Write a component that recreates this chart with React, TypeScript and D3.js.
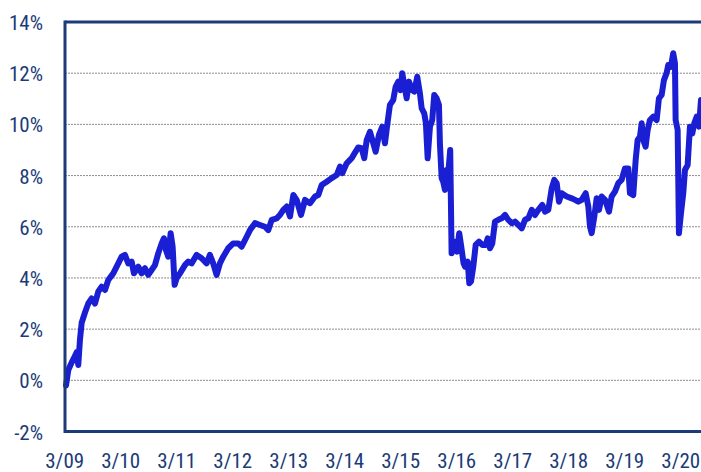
import React from "react";
import * as d3 from "d3";

// decimal year of each observation
const years = [
  2009.185, 2009.226, 2009.287, 2009.346, 2009.376, 2009.404, 2009.435, 2009.465, 2009.524, 2009.583,
  2009.644, 2009.703, 2009.762, 2009.822, 2009.881, 2009.94, 2010.029, 2010.119, 2010.179, 2010.238,
  2010.297, 2010.358, 2010.399, 2010.476, 2010.537, 2010.596, 2010.655, 2010.715, 2010.774, 2010.833,
  2010.894, 2010.935, 2010.971, 2011.012, 2011.055, 2011.09, 2011.126, 2011.162, 2011.221, 2011.31,
  2011.369, 2011.429, 2011.519, 2011.608, 2011.697, 2011.756, 2011.815, 2011.876, 2011.935, 2011.994,
  2012.083, 2012.172, 2012.262, 2012.322, 2012.412, 2012.471, 2012.56, 2012.649, 2012.738, 2012.797,
  2012.858, 2012.947, 2013.006, 2013.065, 2013.126, 2013.185, 2013.244, 2013.304, 2013.381, 2013.453,
  2013.542, 2013.631, 2013.69, 2013.751, 2013.84, 2013.929, 2014.019, 2014.078, 2014.119, 2014.197,
  2014.287, 2014.346, 2014.404, 2014.465, 2014.512, 2014.555, 2014.613, 2014.673, 2014.715, 2014.774,
  2014.833, 2014.881, 2014.922, 2014.97, 2015.029, 2015.072, 2015.119, 2015.161, 2015.19, 2015.226,
  2015.269, 2015.31, 2015.369, 2015.405, 2015.458, 2015.506, 2015.537, 2015.583, 2015.613, 2015.644,
  2015.685, 2015.726, 2015.762, 2015.804, 2015.846, 2015.863, 2015.894, 2015.922, 2015.953, 2015.983,
  2016.012, 2016.047, 2016.072, 2016.119, 2016.167, 2016.208, 2016.244, 2016.285, 2016.31, 2016.358,
  2016.387, 2016.417, 2016.458, 2016.501, 2016.56, 2016.619, 2016.679, 2016.715, 2016.756, 2016.797,
  2016.845, 2016.904, 2016.965, 2017.024, 2017.083, 2017.144, 2017.203, 2017.262, 2017.322, 2017.381,
  2017.44, 2017.501, 2017.56, 2017.619, 2017.69, 2017.738, 2017.797, 2017.858, 2017.904, 2017.947,
  2017.988, 2018.036, 2018.126, 2018.215, 2018.274, 2018.333, 2018.393, 2018.465, 2018.512, 2018.542,
  2018.572, 2018.619, 2018.661, 2018.703, 2018.751, 2018.812, 2018.881, 2018.929, 2018.988, 2019.047,
  2019.107, 2019.167, 2019.226, 2019.256, 2019.315, 2019.358, 2019.393, 2019.435, 2019.465, 2019.494,
  2019.536, 2019.572, 2019.613, 2019.673, 2019.733, 2019.774, 2019.822, 2019.863, 2019.911, 2019.94,
  2019.988, 2020.029, 2020.06, 2020.072, 2020.108, 2020.131, 2020.167, 2020.208, 2020.238, 2020.286,
  2020.327, 2020.369, 2020.404, 2020.447, 2020.488, 2020.524,
];

// value in percent
const values = [
  -0.2, 0.4, 0.7, 0.95, 1.1, 0.6, 1.6, 2.25, 2.65, 3.0,
  3.2, 3.0, 3.47, 3.66, 3.53, 3.92, 4.18, 4.57, 4.83, 4.9,
  4.57, 4.64, 4.18, 4.44, 4.18, 4.38, 4.12, 4.31, 4.5, 4.96,
  5.35, 5.55, 5.09, 4.83, 5.75, 5.22, 3.73, 3.99, 4.18, 4.5,
  4.64, 4.57, 4.9, 4.77, 4.57, 4.9, 4.57, 4.12, 4.57, 4.83,
  5.16, 5.35, 5.35, 5.22, 5.61, 5.87, 6.14, 6.07, 6.0, 5.87,
  6.27, 6.33, 6.46, 6.66, 6.79, 6.4, 7.24, 7.05, 6.46, 7.05,
  6.92, 7.18, 7.24, 7.63, 7.76, 7.9, 8.02, 8.35, 8.09, 8.48,
  8.68, 8.9, 9.1, 9.07, 8.68, 9.39, 9.71, 9.26, 8.93, 9.59,
  9.91, 9.26, 9.98, 10.76, 10.95, 11.47, 11.67, 11.34, 12.0, 11.54,
  11.02, 11.67, 11.34, 11.28, 11.86, 11.21, 10.63, 10.43, 10.04, 8.68,
  9.91, 10.17, 11.15, 11.02, 10.76, 9.26, 7.9, 7.76, 7.44, 8.22,
  8.09, 9.0, 4.96, 5.42, 5.03, 5.75, 5.22, 4.57, 4.44, 4.64,
  3.79, 3.86, 4.44, 5.29, 5.42, 5.29, 5.29, 5.55, 5.16, 5.35,
  6.2, 6.27, 6.33, 6.46, 6.27, 6.14, 6.2, 6.07, 5.94, 6.27,
  6.33, 6.66, 6.46, 6.66, 6.85, 6.59, 6.66, 7.5, 7.83, 7.7,
  6.98, 7.31, 7.18, 7.11, 7.05, 6.98, 7.05, 7.31, 6.79, 6.0,
  5.75, 6.4, 7.11, 6.66, 7.18, 7.05, 6.59, 7.18, 7.37, 7.7,
  7.83, 8.28, 8.28, 7.31, 7.24, 8.61, 9.39, 9.52, 10.04, 9.39,
  9.13, 9.78, 10.17, 10.3, 10.17, 11.02, 11.15, 11.73, 12.0, 12.32,
  12.25, 12.78, 12.39, 10.17, 9.78, 5.75, 6.53, 7.31, 8.22, 8.41,
  9.91, 9.65, 10.04, 10.3, 9.91, 10.95,
];

const yTicks = [-2, 0, 2, 4, 6, 8, 10, 12, 14];
const xTickYears = [2009, 2010, 2011, 2012, 2013, 2014, 2015, 2016, 2017, 2018, 2019, 2020];
const domainStart = 2009.167;
const domainEnd = 2020.524;

function toDate(dy: number): Date {
  const y = Math.floor(dy);
  const start = Date.UTC(y, 0, 1);
  const end = Date.UTC(y + 1, 0, 1);
  return new Date(start + (dy - y) * (end - start));
}

const W = 701;
const H = 472;
const left = 65;
const right = 701;
const top = 22;
const bottom = 431.5;
const navy = "#1b3c78";
const font = "'Liberation Sans Narrow', 'Arial Narrow', 'Roboto Condensed', sans-serif";

export default function App() {
  const x = d3.scaleUtc().domain([toDate(domainStart), toDate(domainEnd)]).range([left, right]);
  const y = d3.scaleLinear().domain([-2, 14]).range([bottom, top]);
  const pts = years.map((yr, i) => ({ d: toDate(yr), v: values[i] }));
  const line = d3
    .line<{ d: Date; v: number }>()
    .x((p) => x(p.d))
    .y((p) => y(p.v));
  const fmt = d3.utcFormat("%-m/%y");
  const xTicks = xTickYears.map((yr) => new Date(Date.UTC(yr, 2, 1)));

  return (
    <svg
      width={W}
      height={H}
      style={{ position: "absolute", left: 0, top: 0, background: "#fff" }}
      fontFamily={font}
    >
      {yTicks
        .filter((t) => t > -2 && t < 14)
        .map((t) => (
          <line
            key={t}
            x1={left}
            x2={right}
            y1={y(t)}
            y2={y(t)}
            stroke="#8c8c8c"
            strokeWidth={1}
            strokeDasharray="2,1"
          />
        ))}
      <path d={line(pts) || ""} fill="none" stroke="#1b1fd3" strokeWidth={6} strokeLinejoin="round" strokeLinecap="round" />
      <line x1={left} x2={right} y1={top} y2={top} stroke={navy} strokeWidth={3} />
      <line x1={left} x2={right} y1={bottom} y2={bottom} stroke={navy} strokeWidth={3} />
      <line x1={left} x2={left} y1={top - 1.5} y2={bottom + 1.5} stroke={navy} strokeWidth={3} />
      {yTicks.map((t) => (
        <text key={t} x={43} y={y(t) + 8} textAnchor="end" fontSize={21} fill={navy}>
          {t}%
        </text>
      ))}
      {xTicks.map((d, i) => (
        <text key={i} x={x(d)} y={468} textAnchor="middle" fontSize={21} fill={navy}>
          {fmt(d)}
        </text>
      ))}
    </svg>
  );
}
